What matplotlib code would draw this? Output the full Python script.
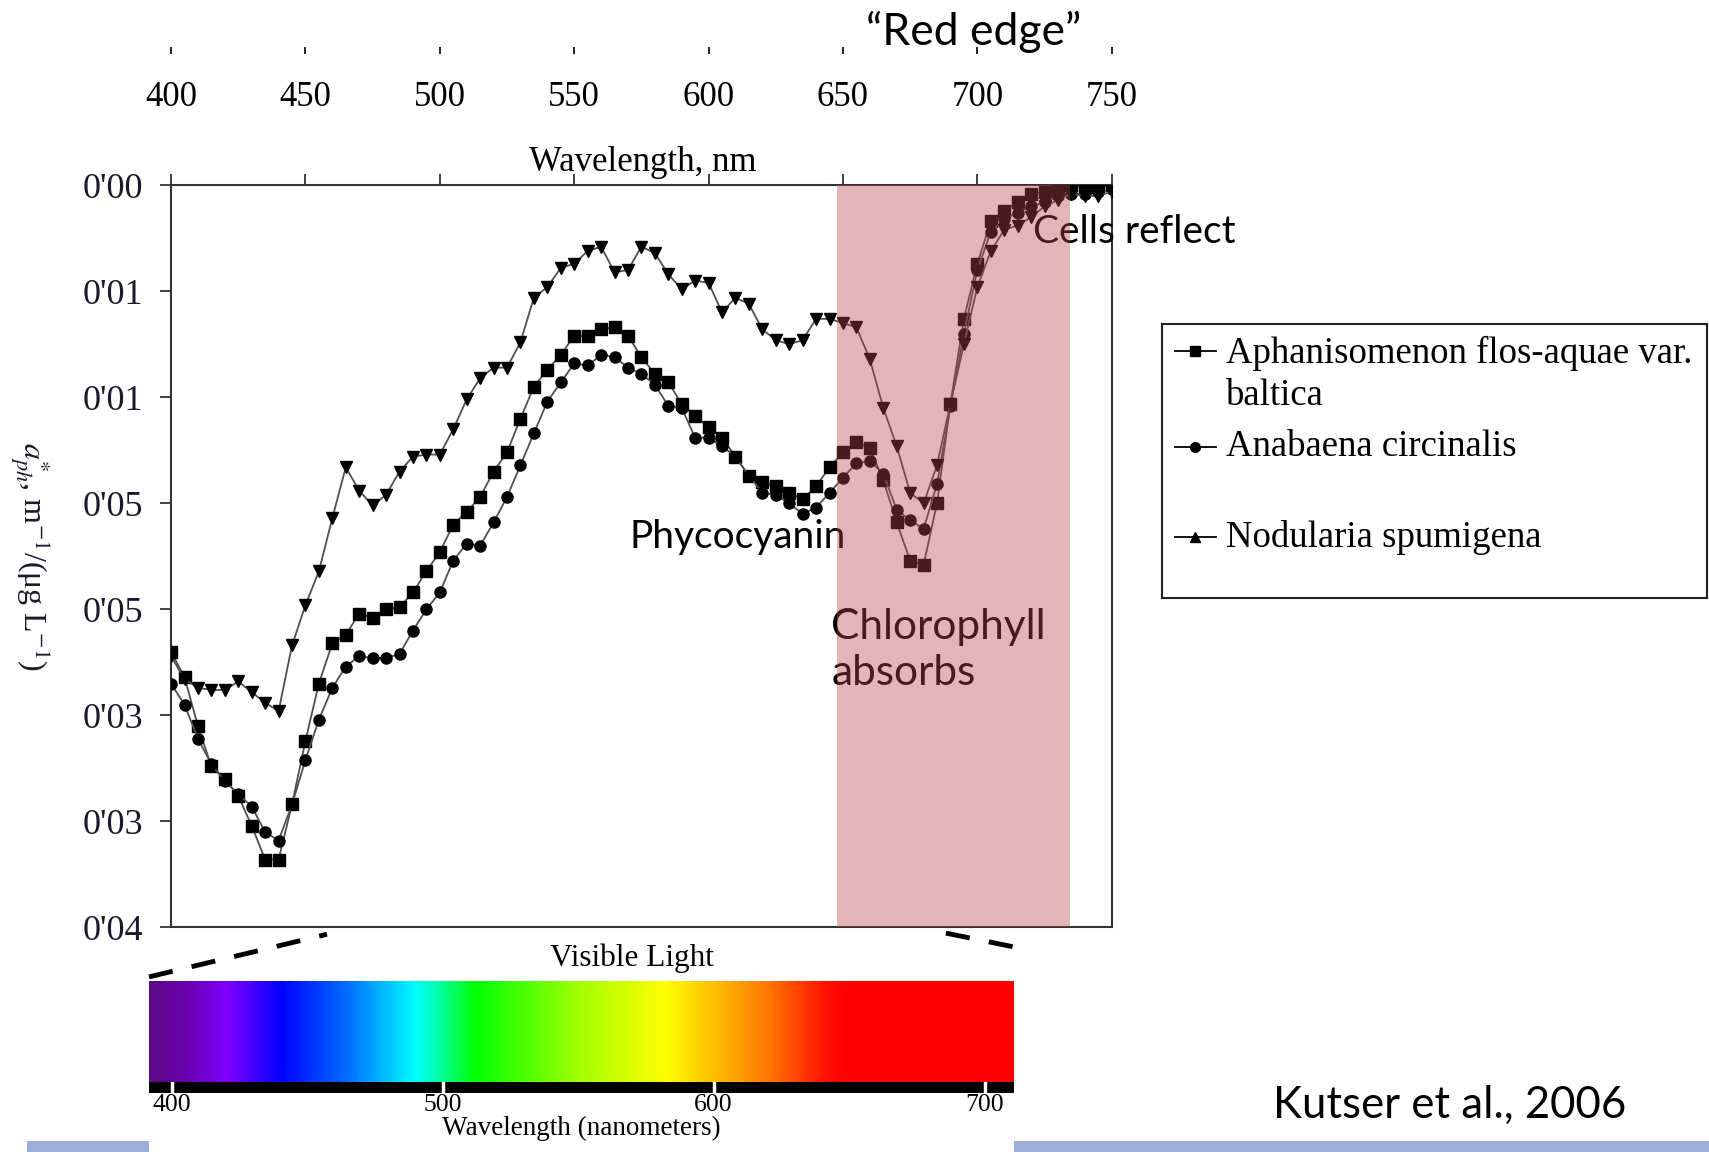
import numpy as np
import matplotlib
matplotlib.use("Agg")
import matplotlib.pyplot as plt
from matplotlib.colors import LinearSegmentedColormap
from matplotlib.lines import Line2D
from matplotlib.patches import Rectangle

# wavelength grid, nm
wavelength = np.arange(400, 755, 5)

# specific absorption a*ph, m-1/(ug L-1)
aphanizomenon = [
    0.0220, 0.0232, 0.0255, 0.0274, 0.0280, 0.0288, 0.0302, 0.0318, 0.0318, 0.0292,
    0.0262, 0.0235, 0.0216, 0.0212, 0.0202, 0.0204, 0.0200, 0.0199, 0.0192, 0.0182,
    0.0173, 0.0160, 0.0154, 0.0147, 0.0135, 0.0126, 0.0110, 0.0095, 0.0087, 0.0080,
    0.0071, 0.0071, 0.0068, 0.0067, 0.0071, 0.0081, 0.0089, 0.0093, 0.0103, 0.0109,
    0.0114, 0.0119, 0.0128, 0.0137, 0.0140, 0.0142, 0.0145, 0.0148, 0.0142, 0.0133,
    0.0126, 0.0121, 0.0124, 0.0139, 0.0159, 0.0177, 0.0179, 0.0150, 0.0103, 0.0063,
    0.0037, 0.0017, 0.0012, 0.0008, 0.0004, 0.0003, 0.0001, 0.0000, 0.0001, 0.0001,
    0.0000]
anabaena = [
    0.0235, 0.0245, 0.0261, 0.0273, 0.0281, 0.0287, 0.0293, 0.0305, 0.0309, 0.0292,
    0.0271, 0.0252, 0.0237, 0.0227, 0.0222, 0.0223, 0.0223, 0.0221, 0.0210, 0.0200,
    0.0192, 0.0177, 0.0169, 0.0170, 0.0159, 0.0147, 0.0132, 0.0117, 0.0102, 0.0093,
    0.0084, 0.0085, 0.0080, 0.0081, 0.0086, 0.0089, 0.0094, 0.0104, 0.0105, 0.0119,
    0.0119, 0.0123, 0.0128, 0.0137, 0.0145, 0.0146, 0.0150, 0.0155, 0.0152, 0.0145,
    0.0138, 0.0131, 0.0130, 0.0136, 0.0153, 0.0158, 0.0162, 0.0141, 0.0104, 0.0070,
    0.0040, 0.0022, 0.0016, 0.0013, 0.0010, 0.0008, 0.0005, 0.0004, 0.0004, 0.0003,
    0.0002]
nodularia = [
    0.0222, 0.0233, 0.0237, 0.0238, 0.0238, 0.0234, 0.0239, 0.0244, 0.0248, 0.0217,
    0.0198, 0.0182, 0.0157, 0.0133, 0.0144, 0.0151, 0.0146, 0.0135, 0.0128, 0.0127,
    0.0127, 0.0115, 0.0101, 0.0091, 0.0086, 0.0086, 0.0074, 0.0053, 0.0048, 0.0039,
    0.0037, 0.0031, 0.0029, 0.0041, 0.0040, 0.0029, 0.0032, 0.0042, 0.0049, 0.0045,
    0.0046, 0.0060, 0.0053, 0.0056, 0.0068, 0.0073, 0.0075, 0.0073, 0.0063, 0.0063,
    0.0065, 0.0067, 0.0082, 0.0105, 0.0123, 0.0145, 0.0150, 0.0132, 0.0103, 0.0075,
    0.0048, 0.0031, 0.0021, 0.0019, 0.0015, 0.0010, 0.0007, 0.0004, 0.0005, 0.0005,
    0.0003]

series_names = ["Aphanisomenon flos-aquae var.\nbaltica", "Anabaena circinalis", "Nodularia spumigena"]

ytick_vals = [0.000, 0.005, 0.010, 0.015, 0.020, 0.025, 0.030, 0.035]
ytick_labels = ["0'00", "0'01", "0'01", "0'05", "0'05", "0'03", "0'03", "0'04"]
top_ticks = [400, 450, 500, 550, 600, 650, 700, 750]
spectrum_ticks = [400, 500, 600, 700]

# spectrum colour stops (nm, colour)
spec_nm = [391.6, 405, 420, 440, 465, 490, 500, 512, 550, 582, 600, 622, 642, 650, 710.8]
spec_col = ["#5a0a86", "#6a00b0", "#8000ff", "#0000ff", "#0070ff", "#00ffff", "#00ff90",
            "#00ff00", "#a0ff00", "#ffff00", "#ffc000", "#ff7000", "#ff1000", "#ff0000", "#ff0000"]

serif = ["Liberation Serif", "DejaVu Serif"]
sans = ["Lato", "DejaVu Sans"]
plt.rcParams["font.family"] = serif
plt.rcParams["mathtext.fontset"] = "stix"

fig = plt.figure(figsize=(17.09, 11.52), dpi=100)

# main plot
ax = fig.add_axes([0.1001, 0.1949, 0.5504, 0.6443])
line_col = "#505050"
ax.plot(wavelength, aphanizomenon, color=line_col, lw=1.3, marker="s", ms=8.5,
        mfc="black", mec="black", zorder=3)
ax.plot(wavelength, anabaena, color=line_col, lw=1.3, marker="o", ms=8,
        mfc="black", mec="black", zorder=3)
ax.plot(wavelength, nodularia, color=line_col, lw=1.3, marker="v", ms=9,
        mfc="black", mec="black", zorder=3)
ax.set_xlim(400, 750)
ax.set_ylim(0.035, 0.0)
ax.xaxis.tick_top()
ax.set_xticks(top_ticks)
ax.set_xticklabels([])
ax.tick_params(axis="x", direction="out", length=8, width=1.3, color="#333333")
ax.set_yticks(ytick_vals)
ax.set_yticklabels(ytick_labels)
ax.tick_params(axis="y", direction="out", length=8, width=1.3, pad=12,
               labelsize=26, color="#333333", labelcolor="#1a1a2a")
for s in ax.spines.values():
    s.set_linewidth(1.5)
    s.set_color("#333333")

# red-edge shading sits over everything in the plot
ax.axvspan(647.8, 734.5, color="#b94646", alpha=0.4, lw=0, zorder=10)

ax.text(570.6, 0.0166, "Phycocyanin", family=sans, fontsize=28, va="center", ha="left", zorder=5)
ax.text(645.7, 0.0219, "Chlorophyll\nabsorbs", family=sans, fontsize=30.5, va="center", ha="left",
        linespacing=1.25, zorder=5, clip_on=False)
ax.text(720.6, 0.0022, "Cells reflect", family=sans, fontsize=28, va="center", ha="left",
        zorder=5, clip_on=False)

fig.text(0.376, 0.859, "Wavelength, nm", fontsize=25, ha="center", va="center")
fig.text(0.018, 0.517, "$a^{*}_{ph}$, m$^{-1}$/(\u03bcg L$^{-1}$)", fontsize=23, rotation=270,
         ha="center", va="center", color="#1a1a2a")

# cropped wavelength scale at the top of the slide
top = fig.add_axes([0.1001, 0.9595, 0.5504, 0.0001])
top.set_xlim(400, 750)
top.set_yticks([])
for s in top.spines.values():
    s.set_visible(False)
top.patch.set_visible(False)
top.set_xticks(top_ticks)
top.tick_params(axis="x", direction="out", length=5, width=1.2, pad=20, labelsize=25)

fig.text(0.5067, 0.972, "\u201cRed edge\u201d", family=sans, fontsize=32, ha="left", va="center")

# legend box
leg = fig.add_axes([0.680, 0.481, 0.319, 0.238])
leg.set_xlim(0, 1)
leg.set_ylim(0, 1)
leg.set_xticks([])
leg.set_yticks([])
for s in leg.spines.values():
    s.set_linewidth(1.5)
    s.set_color("#222222")
leg_y = [0.901, 0.551, 0.222]
leg_text_y = [0.845, 0.551, 0.222]
leg_marker = ["s", "o", "^"]
for yy, ty, mk, name in zip(leg_y, leg_text_y, leg_marker, series_names):
    leg.plot([0.024, 0.061, 0.098], [yy, yy, yy], color="black", lw=1.3, marker=mk,
             markevery=[1], ms=7)
    leg.text(0.117, ty, name, fontsize=26.5, ha="left",
             va="center_baseline" if "\n" in name else "center", linespacing=1.3)

# visible light spectrum
spec_lo, spec_hi = spec_nm[0], spec_nm[-1]
pos = [(v - spec_lo) / (spec_hi - spec_lo) for v in spec_nm]
cmap = LinearSegmentedColormap.from_list("visible", list(zip(pos, spec_col)))
spec = fig.add_axes([0.0872, 0.0607, 0.506, 0.0877])
grad = np.linspace(spec_lo, spec_hi, 800)[None, :]
spec.imshow(grad, cmap=cmap, vmin=spec_lo, vmax=spec_hi, aspect="auto",
            extent=[spec_lo, spec_hi, 0, 1])
spec.axis("off")

band = fig.add_axes([0.0872, 0.0512, 0.506, 0.0095])
band.set_facecolor("black")
band.set_xlim(spec_lo, spec_hi)
band.set_ylim(0, 1)
for t in spectrum_ticks:
    band.axvline(t, color="white", lw=2.5)
band.set_yticks([])
band.set_xticks(spectrum_ticks)
band.tick_params(axis="x", length=0, pad=0.5, labelsize=18.5)
band.set_xlabel("Wavelength (nanometers)", fontsize=19.5, labelpad=0)
for s in band.spines.values():
    s.set_visible(False)

fig.text(0.370, 0.168, "Visible Light", fontsize=22.5, ha="center", va="center")

# dashed zoom lines from the spectrum up to the plot
fig.add_artist(Line2D([0.0872, 0.1913], [0.152, 0.189], transform=fig.transFigure,
                      color="black", lw=3.5, ls=(0, (5, 4))))
fig.add_artist(Line2D([0.5535, 0.5933], [0.190, 0.178], transform=fig.transFigure,
                      color="black", lw=3.5, ls=(0, (5, 4))))

fig.text(0.745, 0.040, "Kutser et al., 2006", family=sans, fontsize=31.5, ha="left", va="center")

# slide footer bars
fig.add_artist(Rectangle((0.0158, 0.0), 0.0714, 0.0095, transform=fig.transFigure,
                         color="#9badd8", lw=0))
fig.add_artist(Rectangle((0.5933, 0.0), 0.4067, 0.0095, transform=fig.transFigure,
                         color="#9badd8", lw=0))

fig.savefig("out.png", dpi=100)
